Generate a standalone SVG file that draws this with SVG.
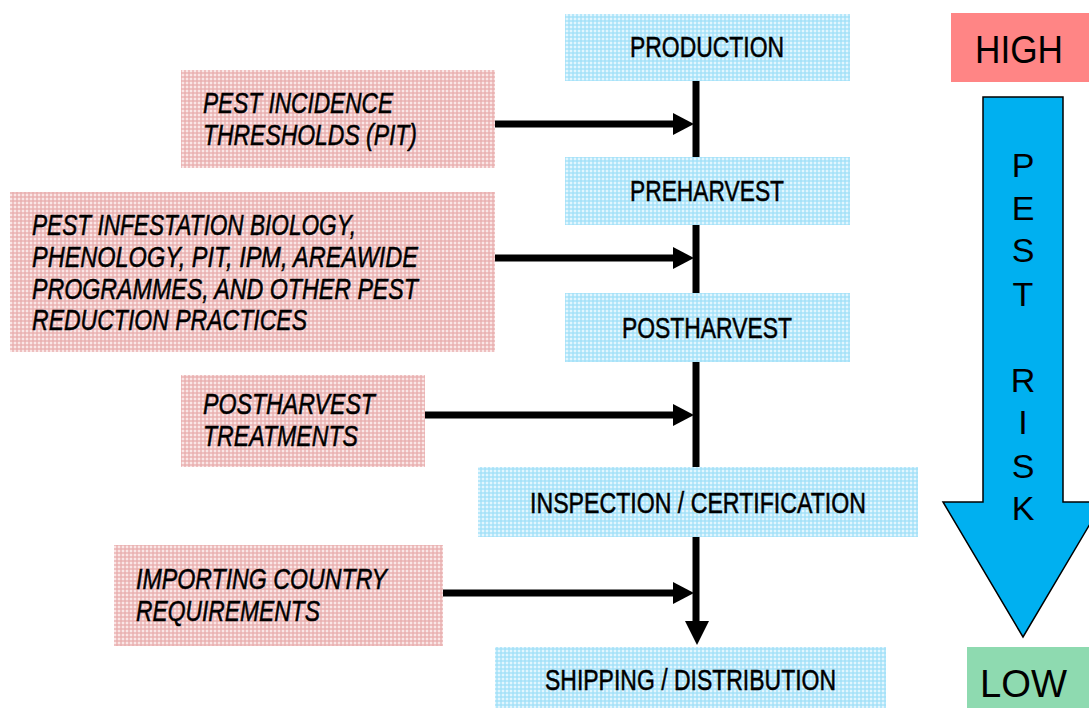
<svg xmlns="http://www.w3.org/2000/svg" width="1089" height="708" viewBox="0 0 1089 708">
<defs>
<pattern id="pb" width="4" height="4" patternUnits="userSpaceOnUse">
<rect width="4" height="4" fill="#e2f6fe"/>
<rect width="4" height="2" fill="#9fdff7" opacity="0.65"/>
<rect width="2" height="4" fill="#9fdff7" opacity="0.65"/>
</pattern>
<pattern id="pp" width="4" height="4" patternUnits="userSpaceOnUse">
<rect width="4" height="4" fill="#fae6e6"/>
<rect width="4" height="2" fill="#e8acac" opacity="0.65"/>
<rect width="2" height="4" fill="#e8acac" opacity="0.65"/>
</pattern>
</defs>
<style>
.bx{fill:url(#pb)}
.pk{fill:url(#pp)}
.t{font-family:"Liberation Sans Narrow","Liberation Sans",Arial,sans-serif;font-size:29px;fill:#000;stroke:#000;stroke-width:0.5}
.it{font-family:"Liberation Sans Narrow","Liberation Sans",Arial,sans-serif;font-size:29px;font-style:italic;fill:#000;stroke:#000;stroke-width:0.5}
.lt{font-family:"Liberation Sans",Arial,sans-serif;fill:#000}
.ln{stroke:#000;stroke-width:7;fill:none}
</style>

<g id="connectors">
<line class="ln" x1="696" y1="81" x2="696" y2="157"/>
<line class="ln" x1="696" y1="225" x2="696" y2="293"/>
<line class="ln" x1="696" y1="362" x2="696" y2="467"/>
<line class="ln" x1="696" y1="537" x2="696" y2="625"/>
<path d="M685,621 L709,621 L697,645 Z" fill="#000"/>
<line class="ln" x1="495" y1="124" x2="675" y2="124"/>
<path d="M673,113 L694,124 L673,135 Z" fill="#000"/>
<line class="ln" x1="495" y1="258" x2="675" y2="258"/>
<path d="M673,247 L694,258 L673,269 Z" fill="#000"/>
<line class="ln" x1="425" y1="415" x2="675" y2="415"/>
<path d="M673,404 L694,415 L673,426 Z" fill="#000"/>
<line class="ln" x1="443" y1="593" x2="675" y2="593"/>
<path d="M673,582 L694,593 L673,604 Z" fill="#000"/>
</g>

<g id="production">
<rect class="bx" x="565" y="14" width="285" height="67"/>
<text class="t" x="630" y="57" textLength="154" lengthAdjust="spacingAndGlyphs">PRODUCTION</text>
</g>
<g id="preharvest">
<rect class="bx" x="565" y="157" width="285" height="68"/>
<text class="t" x="630" y="201" textLength="154" lengthAdjust="spacingAndGlyphs">PREHARVEST</text>
</g>
<g id="postharvest">
<rect class="bx" x="565" y="293" width="285" height="69"/>
<text class="t" x="622" y="338" textLength="170" lengthAdjust="spacingAndGlyphs">POSTHARVEST</text>
</g>
<g id="inspection">
<rect class="bx" x="478" y="467" width="440" height="70"/>
<text class="t" x="530" y="513" textLength="336" lengthAdjust="spacingAndGlyphs">INSPECTION / CERTIFICATION</text>
</g>
<g id="shipping">
<rect class="bx" x="495" y="647" width="391" height="61"/>
<text class="t" x="545" y="690" textLength="291" lengthAdjust="spacingAndGlyphs">SHIPPING / DISTRIBUTION</text>
</g>

<g id="pit">
<rect class="pk" x="181" y="70" width="314" height="98"/>
<text class="it" x="203" y="113" textLength="190" lengthAdjust="spacingAndGlyphs">PEST INCIDENCE</text>
<text class="it" x="203" y="145" textLength="214" lengthAdjust="spacingAndGlyphs">THRESHOLDS (PIT)</text>
</g>
<g id="biology">
<rect class="pk" x="10" y="192" width="485" height="160"/>
<text class="it" x="32" y="235" textLength="324" lengthAdjust="spacingAndGlyphs">PEST INFESTATION BIOLOGY,</text>
<text class="it" x="32" y="267" textLength="386" lengthAdjust="spacingAndGlyphs">PHENOLOGY, PIT, IPM, AREAWIDE</text>
<text class="it" x="32" y="299" textLength="386" lengthAdjust="spacingAndGlyphs">PROGRAMMES, AND OTHER PEST</text>
<text class="it" x="32" y="330" textLength="275" lengthAdjust="spacingAndGlyphs">REDUCTION PRACTICES</text>
</g>
<g id="treatments">
<rect class="pk" x="181" y="375" width="244" height="92"/>
<text class="it" x="203" y="414" textLength="172" lengthAdjust="spacingAndGlyphs">POSTHARVEST</text>
<text class="it" x="203" y="446" textLength="155" lengthAdjust="spacingAndGlyphs">TREATMENTS</text>
</g>
<g id="importing">
<rect class="pk" x="114" y="545" width="329" height="101"/>
<text class="it" x="136" y="589" textLength="251" lengthAdjust="spacingAndGlyphs">IMPORTING COUNTRY</text>
<text class="it" x="136" y="621" textLength="184" lengthAdjust="spacingAndGlyphs">REQUIREMENTS</text>
</g>

<g id="high">
<rect x="951" y="13" width="138" height="69" fill="#ff8585"/>
<text class="lt" x="975" y="63" font-size="38" textLength="88" lengthAdjust="spacingAndGlyphs">HIGH</text>
</g>
<g id="risk-arrow">
<path d="M983,97 L1063,97 L1063,502 L1103,502 L1023,637 L943,502 L983,502 Z" fill="#00b0f0" stroke="#000" stroke-width="1.5"/>
<g class="lt" font-size="34" text-anchor="middle">
<text x="1023" y="177">P</text>
<text x="1023" y="220">E</text>
<text x="1023" y="262">S</text>
<text x="1023" y="306">T</text>
<text x="1023" y="392">R</text>
<text x="1023" y="434">I</text>
<text x="1023" y="478">S</text>
<text x="1023" y="520">K</text>
</g>
</g>
<g id="low">
<rect x="967" y="647" width="122" height="61" fill="#8edab0"/>
<text class="lt" x="980" y="697" font-size="38" textLength="87" lengthAdjust="spacingAndGlyphs">LOW</text>
</g>
</svg>
